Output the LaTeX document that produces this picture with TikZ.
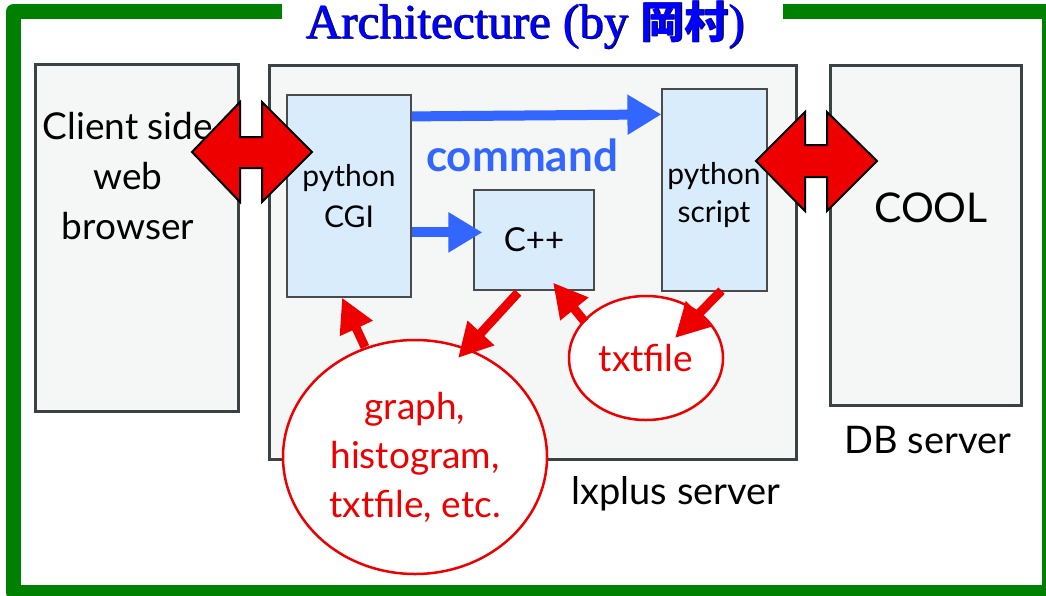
\documentclass[tikz,border=0pt]{standalone}
\usepackage{fontspec}
\setsansfont{Lato}
\newfontfamily\cjk{Noto Sans CJK JP}
\newfontfamily\titlefont{Liberation Serif}[FakeBold=0.5]
\usetikzlibrary{arrows.meta,shapes.geometric,calc}
\definecolor{frameg}{HTML}{008000}
\definecolor{boxfill}{HTML}{F5F6F6}
\definecolor{boxline}{HTML}{3A4244}
\definecolor{procfill}{HTML}{D9ECFB}
\definecolor{procline}{HTML}{4A4A4A}
\definecolor{arrred}{HTML}{EE0000}
\definecolor{cmdblue}{HTML}{3366FF}
\definecolor{titleblue}{HTML}{0000FF}
\tikzset{
  server/.style={draw=boxline,fill=boxfill,line width=3pt,inner sep=0pt},
  proc/.style={draw=procline,fill=procfill,line width=1.2pt,inner sep=0pt,align=center,
    font=\fontsize{30}{41}\selectfont\sffamily},
  lbl/.style={inner sep=0pt,align=center,font=\fontsize{38}{50}\selectfont\sffamily},
  blob/.style={ellipse,draw=arrred,fill=white,line width=2.5pt,inner sep=0pt,align=center,
    text=arrred},
  redarr/.style={draw=arrred,line width=9pt,-{Triangle[length=34pt,width=34pt]}},
  bluearr/.style={draw=cmdblue,line width=10pt,-{Triangle[length=34pt,width=38pt]}},
  dblarrow/.style={fill=arrred,draw=black,line width=2pt,line join=miter},
  titletext/.style={anchor=base,inner sep=0pt,font=\fontsize{49}{49}\selectfont\titlefont},
}
\newcommand{\titlecontent}{Architecture (by {\cjk\bfseries\fontsize{44}{44}\selectfont 岡村})}
\begin{document}
\begin{tikzpicture}[x=1pt,y=-1pt]
\useasboundingbox (0,0) rectangle (1046,595);
\clip (0,0) rectangle (1046,595);
% frame
\draw[frameg,line width=15pt,line join=round] (282,11.5) -- (13.5,11.5) -- (13.5,592.5)
  -- (1049.5,592.5) -- (1049.5,11.5) -- (783,11.5);
% title
\node[titletext,text=black] (titleshadow) at (525.9,38.6) {\titlecontent};
\node[titletext,text=titleblue] (title) at (525,38) {\titlecontent};
% servers
\node[server,minimum width=203pt,minimum height=347pt] (client) at (136.5,237.5) {};
\node[server,minimum width=527pt,minimum height=394pt] (lxplus) at (532.5,262) {};
\node[server,minimum width=191pt,minimum height=340pt] (db) at (925.5,235) {};
\node[lbl,font=\fontsize{37}{50}\selectfont\sffamily] (clienttxt) at (128,176) {Client side\\web\\browser};
\node[lbl,font=\fontsize{41}{50}\selectfont\sffamily] (cooltxt) at (931,208) {COOL};
\node[lbl] (dbtxt) at (928,440) {DB server};
\node[lbl] (lxtxt) at (676,494) {lxplus server};
% processes
\node[proc,minimum width=124pt,minimum height=202pt] (cgi) at (349,196) {python\\CGI};
\node[proc,minimum width=120pt,minimum height=100pt,font=\fontsize{33}{40}\selectfont\sffamily] (cpp) at (534,240) {C++};
\node[proc,minimum width=105pt,minimum height=202pt] (script) at (714.5,190) {};
\node[inner sep=0pt,align=center,font=\fontsize{30}{38}\selectfont\sffamily] (scripttxt) at (714,195) {python\\script};
% outputs
\node[blob,minimum width=264pt,minimum height=234pt,font=\fontsize{37}{49}\selectfont\sffamily] (graph) at (415,457) {graph,\\histogram,\\txtfile, etc.};
\node[blob,minimum width=154pt,minimum height=124pt,font=\fontsize{37}{40}\selectfont\sffamily] (txt) at (646,358) {txtfile};
% command arrows
\draw[bluearr] ($(cgi.north east)+(0,22)$) -- ($(script.north west)+(0,26)$);
\draw[bluearr] ($(cgi.north east)+(0,138)$) -- ($(cpp.north west)+(9,43)$);
\node[inner sep=0pt,text=cmdblue,font=\fontsize{44}{44}\selectfont\sffamily\bfseries] (cmd) at (522,155) {command};
% red arrows
\draw[redarr] ($(graph.center)+(-50,-110)$) -- ($(cgi.south)+(-7,0)$);
\draw[redarr] ($(cpp.south)+(-16,2)$) -- ($(graph.center)+(43,-99)$);
\draw[redarr] ($(txt.center)+(-61,-36)$) -- ($(cpp.south)+(19,-8)$);
\draw[redarr] ($(script.south)+(7,-1)$) -- ($(txt.center)+(29,-20)$);
% double arrows
\draw[dblarrow] (192,152) -- (240,102) -- (240,137) -- (262,137) -- (262,102) -- (312,152)
  -- (262,202) -- (262,168) -- (240,168) -- (240,202) -- cycle;
\draw[dblarrow] (756,161) -- (805,112) -- (805,145) -- (827,145) -- (827,112) -- (877,161)
  -- (827,211) -- (827,177) -- (805,177) -- (805,211) -- cycle;
\end{tikzpicture}
\end{document}
